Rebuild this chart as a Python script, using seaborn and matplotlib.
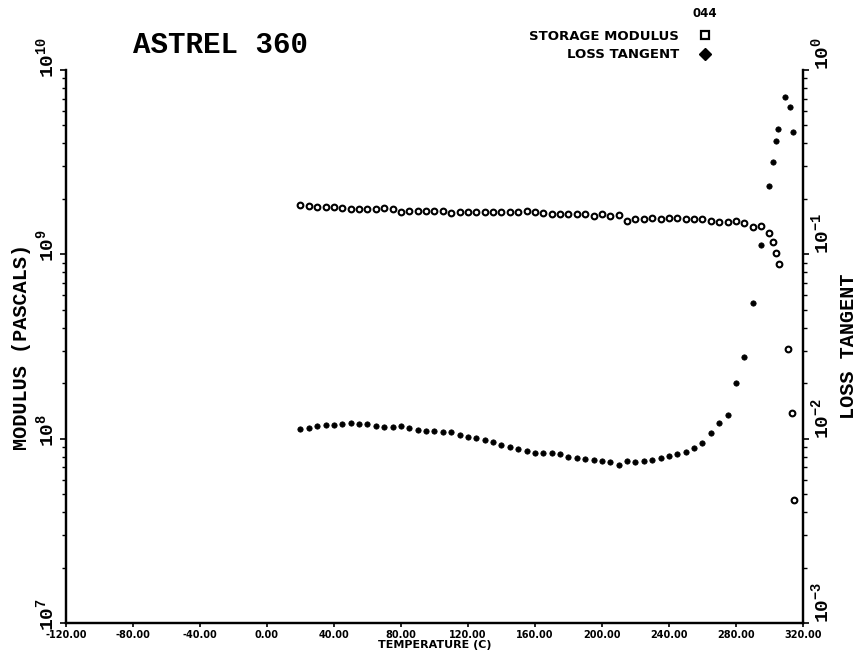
import matplotlib
matplotlib.use('Agg')
import matplotlib.pyplot as plt
import matplotlib.transforms as mtransforms
import seaborn as sns
import pandas as pd
from matplotlib.lines import Line2D
from matplotlib.ticker import FixedLocator, LogLocator, NullFormatter

# storage modulus (Pa) vs temperature (C)
storage_temp = [20, 25, 30, 35, 40, 45, 50, 55, 60, 65, 70, 75, 80, 85, 90, 95,
                100, 105, 110, 115, 120, 125, 130, 135, 140, 145, 150, 155, 160,
                165, 170, 175, 180, 185, 190, 195, 200, 205, 210, 215, 220, 225,
                230, 235, 240, 245, 250, 255, 260, 265, 270, 275, 280, 285, 290,
                295, 300, 302, 304, 305.5, 311, 313.5, 314.5]
storage_modulus = [1.858e9, 1.828e9, 1.796e9, 1.796e9, 1.811e9, 1.782e9, 1.751e9,
                   1.751e9, 1.766e9, 1.766e9, 1.782e9, 1.751e9, 1.695e9, 1.723e9,
                   1.723e9, 1.723e9, 1.717e9, 1.708e9, 1.686e9, 1.695e9, 1.695e9,
                   1.695e9, 1.695e9, 1.695e9, 1.695e9, 1.695e9, 1.701e9, 1.708e9,
                   1.701e9, 1.674e9, 1.653e9, 1.665e9, 1.665e9, 1.665e9, 1.653e9,
                   1.624e9, 1.665e9, 1.624e9, 1.638e9, 1.525e9, 1.558e9, 1.558e9,
                   1.572e9, 1.558e9, 1.572e9, 1.572e9, 1.558e9, 1.558e9, 1.558e9,
                   1.519e9, 1.506e9, 1.506e9, 1.525e9, 1.476e9, 1.414e9, 1.427e9,
                   1.312e9, 1.163e9, 1.017e9, 8.85e8, 3.08e8, 1.38e8, 4.62e7]

# loss tangent vs temperature (C)
loss_temp = [20, 25, 30, 35, 40, 45, 50, 55, 60, 65, 70, 75, 80, 85, 90, 95,
             100, 105, 110, 115, 120, 125, 130, 135, 140, 145, 150, 155, 160,
             165, 170, 175, 180, 185, 190, 195, 200, 205, 210, 215, 220, 225,
             230, 235, 240, 245, 250, 255, 260, 265, 270, 275, 280, 285, 290,
             295, 300, 302, 304, 305, 309.5, 312, 314]
loss_tangent = [0.01124, 0.01147, 0.01171, 0.01182, 0.01186, 0.01201, 0.01221,
                0.01206, 0.01197, 0.01176, 0.01152, 0.01152, 0.01171, 0.01147,
                0.01114, 0.01104, 0.01096, 0.01090, 0.01082, 0.01046, 0.01024,
                0.01004, 0.00983, 0.00954, 0.00923, 0.00903, 0.00878, 0.00859,
                0.00838, 0.00838, 0.00831, 0.00821, 0.00796, 0.00784, 0.00774,
                0.00764, 0.00758, 0.00748, 0.00724, 0.00758, 0.00748, 0.00758,
                0.00764, 0.00784, 0.00804, 0.00821, 0.00848, 0.00892, 0.00943,
                0.01069, 0.01212, 0.01345, 0.0200, 0.0276, 0.0542, 0.1128,
                0.235, 0.316, 0.41, 0.478, 0.712, 0.628, 0.463]

x_ticks = [-120, -80, -40, 0, 40, 80, 120, 160, 200, 240, 280, 320]
left_ticks = [1e7, 1e8, 1e9, 1e10]
left_labels = ['7', '8', '9', '10']
right_ticks = [1e-3, 1e-2, 1e-1, 1e0]
right_labels = ['-3', '-2', '-1', '0']

sns.set_style('ticks')
plt.rcParams['font.family'] = ['DejaVu Sans']
plt.rcParams['mathtext.default'] = 'regular'
for k in ('text.color', 'axes.labelcolor', 'xtick.color', 'ytick.color'):
    plt.rcParams[k] = 'black'
mono = 'Liberation Mono'

df_s = pd.DataFrame({'temp': storage_temp, 'modulus': storage_modulus})
df_l = pd.DataFrame({'temp': loss_temp, 'tan': loss_tangent})

fig = plt.figure(figsize=(8.6, 6.56), dpi=100)
ax = fig.add_axes([0.0767, 0.0503, 0.857, 0.843])
ax2 = ax.twinx()

sns.scatterplot(data=df_s, x='temp', y='modulus', ax=ax, marker='o', s=17,
                facecolor='white', edgecolor='black', linewidth=1.5, zorder=3)
sns.scatterplot(data=df_l, x='temp', y='tan', ax=ax2, marker='o', s=15,
                color='black', edgecolor='black', linewidth=0.5, zorder=3)

ax.set_xlim(-120, 320)
ax.set_yscale('log')
ax.set_ylim(1e7, 1e10)
ax2.set_yscale('log')
ax2.set_ylim(1e-3, 1e0)

for a in (ax, ax2):
    a.spines['top'].set_visible(False)
    for s in ('left', 'right', 'bottom'):
        a.spines[s].set_linewidth(1.6)
        a.spines[s].set_color('black')

ax.xaxis.set_major_locator(FixedLocator(x_ticks))
ax.set_xticklabels(['%.2f' % t for t in x_ticks], fontsize=7, fontweight='bold')
ax.tick_params(axis='x', direction='out', length=3, width=1.2, pad=2)
ax.set_xlabel('TEMPERATURE (C)', fontsize=8, fontweight='bold', labelpad=0)

ax.yaxis.set_major_locator(FixedLocator(left_ticks))
ax.set_yticklabels([r'$10^{%s}$' % l for l in left_labels], rotation=90,
                   va='bottom', family=mono, fontsize=14, fontweight='bold')
ax.yaxis.set_minor_locator(LogLocator(base=10, subs=range(2, 10)))
ax.yaxis.set_minor_formatter(NullFormatter())
ax.tick_params(axis='y', which='major', direction='out', length=4, width=1.2, pad=2)
ax.tick_params(axis='y', which='minor', direction='out', length=3, width=1.0)
ax.set_ylabel('MODULUS (PASCALS)', family=mono, fontsize=14.5, fontweight='bold',
              labelpad=3)

ax2.yaxis.set_major_locator(FixedLocator(right_ticks))
ax2.set_yticklabels([r'$10^{%s}$' % l for l in right_labels], rotation=90,
                    va='bottom', family=mono, fontsize=14, fontweight='bold')
ax2.yaxis.set_minor_locator(LogLocator(base=10, subs=range(2, 10)))
ax2.yaxis.set_minor_formatter(NullFormatter())
ax2.tick_params(axis='y', which='major', direction='out', length=4, width=1.2, pad=1)
ax2.tick_params(axis='y', which='minor', direction='out', length=3, width=1.0)
ax2.set_ylabel('LOSS TANGENT', family=mono, fontsize=14.5, fontweight='bold',
               labelpad=5)

# the "10" of each left label sits on the tick, exponent above it
shift = mtransforms.ScaledTranslation(0, -8 / 100, fig.dpi_scale_trans)
for lab in ax.get_yticklabels():
    lab.set_transform(lab.get_transform() + shift)

fig.text(0.256, 0.931, 'ASTREL 360', family=mono, fontsize=21, fontweight='bold',
         ha='center', va='center')
fig.text(0.820, 0.979, '044', fontsize=8.5, fontweight='bold', ha='center', va='center')

handles = [Line2D([], [], ls='none', marker='s', ms=6, mfc='white', mec='black', mew=1.6),
           Line2D([], [], ls='none', marker='D', ms=6, mfc='black', mec='black')]
ax.legend(handles, ['STORAGE MODULUS', 'LOSS TANGENT'], loc='upper left',
          bbox_to_anchor=(0.608, 0.965), bbox_transform=fig.transFigure,
          frameon=False, markerfirst=False, handlelength=1.0, handletextpad=1.45,
          labelspacing=0.45, borderpad=0, prop={'weight': 'bold', 'size': 9.5})

fig.savefig('out.png', dpi=100)
